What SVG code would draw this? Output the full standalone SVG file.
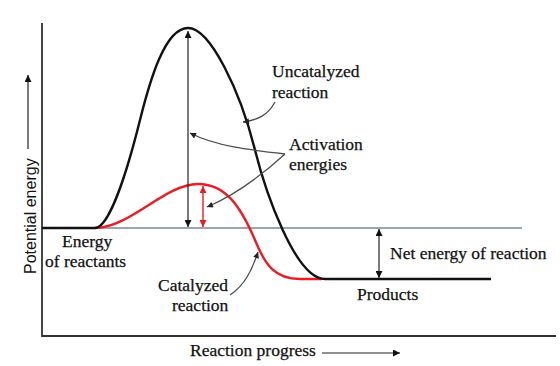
<svg xmlns="http://www.w3.org/2000/svg" width="560" height="366" viewBox="0 0 560 366">
<defs>
<style>
.t{font-family:"Liberation Serif","Times New Roman",serif;font-size:17.5px;fill:#111;stroke:#111;stroke-width:0.25}
.s{font-family:"Liberation Sans",Arial,sans-serif;font-size:16px;fill:#111}
.ax{stroke:#333;stroke-width:1.8;fill:none}
.blk{stroke:#111;stroke-width:2.4;fill:none}
.red{stroke:#ea1c24;stroke-width:2.4;fill:none}
.lvl{stroke:#7a8794;stroke-width:1.4;fill:none}
.ptr{stroke:#4d4d4d;stroke-width:1.3;fill:none}
.dim{stroke:#222;stroke-width:1.2;fill:none}
.dimr{stroke:#ea1c24;stroke-width:1.4;fill:none}
</style>
<marker id="ab" viewBox="0 0 10 10" refX="10" refY="5" markerWidth="10" markerHeight="7" markerUnits="userSpaceOnUse" orient="auto-start-reverse"><path d="M0,0 L10,5 L0,10 z" fill="#111"/></marker>
<marker id="ar" viewBox="0 0 10 10" refX="10" refY="5" markerWidth="10" markerHeight="7" markerUnits="userSpaceOnUse" orient="auto-start-reverse"><path d="M0,0 L10,5 L0,10 z" fill="#ea1c24"/></marker>
<marker id="ap" viewBox="0 0 10 10" refX="10" refY="5" markerWidth="9" markerHeight="6" markerUnits="userSpaceOnUse" orient="auto"><path d="M0,0 L10,5 L0,10 z" fill="#222"/></marker>
</defs>
<rect width="560" height="366" fill="#fff"/>
<g id="axes">
<path class="ax" d="M42,23 L42,336 L556,336"/>
<text class="s" transform="translate(36,274) rotate(-90)">Potential energy</text>
<line class="dim" x1="28" y1="149" x2="28" y2="75" marker-end="url(#ab)"/>
<text class="t" x="190" y="356">Reaction progress</text>
<line class="dim" x1="322" y1="353" x2="400" y2="353" marker-end="url(#ab)"/>
</g>
<g id="reactant-level">
<line class="lvl" x1="42" y1="228" x2="522" y2="228"/>
<text class="t" x="62" y="247">Energy</text>
<text class="t" x="45" y="267">of reactants</text>
</g>
<g id="catalyzed-curve">
<path class="red" d="M95,228 C130,228 165,184 198,184 C225,184 240,205 255,240 C265,265 275,279 300,279 L322,279"/>
</g>
<g id="uncatalyzed-curve">
<path class="blk" d="M42,228 L95,228 C108,228 125,180 140,120 C150,80 165,28 188,28 C210,28 240,90 255,150 C265,190 295,279 325,279 L491,279"/>
</g>
<g id="activation-uncat">
<line class="dim" x1="188" y1="31" x2="188" y2="227" marker-start="url(#ab)" marker-end="url(#ab)"/>
</g>
<g id="activation-cat">
<line class="dimr" x1="203" y1="186" x2="203" y2="227" marker-start="url(#ar)" marker-end="url(#ar)"/>
</g>
<g id="net-energy">
<line class="dim" x1="379" y1="229" x2="379" y2="278" marker-start="url(#ab)" marker-end="url(#ab)"/>
<text class="t" x="390" y="259">Net energy of reaction</text>
</g>
<g id="products">
<text class="t" x="357" y="300">Products</text>
</g>
<g id="label-uncatalyzed">
<text class="t" x="272" y="77">Uncatalyzed</text>
<text class="t" x="272" y="98">reaction</text>
</g>
<g id="label-activation">
<text class="t" x="289" y="150">Activation</text>
<text class="t" x="289" y="170">energies</text>
</g>
<g id="label-catalyzed">
<text class="t" x="158" y="291">Catalyzed</text>
<text class="t" x="172" y="311">reaction</text>
</g>
<g id="connectors">
<path class="ptr" d="M275,102 C268,115 258,120 243,122" marker-end="url(#ap)"/>
<path class="ptr" d="M285,154 C250,150 215,146 190,133" marker-end="url(#ap)"/>
<path class="ptr" d="M285,154 C262,175 235,195 207,207" marker-end="url(#ap)"/>
<path class="ptr" d="M230,295 C245,285 252,270 258,252" marker-end="url(#ap)"/>
</g>
</svg>
